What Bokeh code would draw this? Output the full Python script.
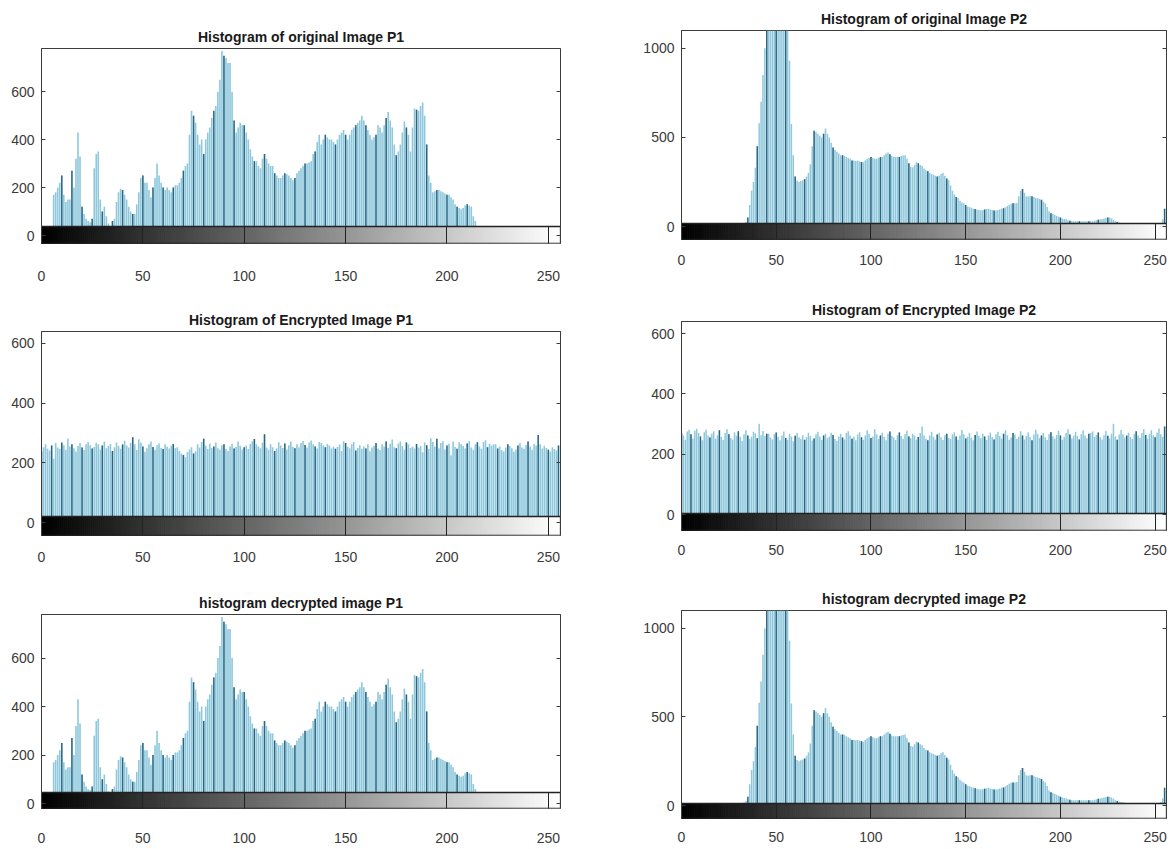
from bokeh.plotting import figure
from bokeh.layouts import row, column
from bokeh.models import Range1d, FixedTicker, LinearAxis
from bokeh.embed import file_html
from bokeh.resources import INLINE

# ---------------- data ----------------
levels = list(range(256))

orig_p1 = [
    0, 0, 0, 0, 0, 40, 170, 180, 200, 220, 250, 170, 140, 150, 150, 270,
    200, 320, 430, 330, 120, 90, 70, 60, 55, 70, 280, 340, 350, 150, 100, 120,
    80, 50, 40, 60, 70, 140, 180, 195, 190, 170, 150, 120, 100, 90, 90, 130,
    180, 240, 250, 220, 220, 190, 160, 200, 240, 300, 250, 220, 200, 190, 200, 190,
    180, 200, 210, 210, 220, 240, 270, 290, 300, 420, 520, 500, 470, 420, 380, 400,
    340, 400, 430, 450, 490, 520, 540, 600, 650, 770, 750, 740, 720, 720, 600, 480,
    430, 450, 470, 460, 460, 430, 400, 360, 330, 310, 310, 290, 280, 320, 340, 320,
    300, 290, 290, 260, 250, 240, 240, 250, 260, 255, 250, 240, 230, 240, 260, 270,
    280, 290, 300, 300, 305, 310, 340, 350, 390, 420, 380, 400, 420, 410, 400, 400,
    390, 380, 400, 420, 430, 440, 420, 400, 420, 440, 450, 460, 470, 480, 500, 480,
    460, 440, 420, 400, 410, 420, 460, 450, 430, 460, 490, 515, 480, 450, 380, 335,
    350, 380, 430, 475, 450, 420, 350, 450, 530, 525, 520, 540, 555, 500, 380, 250,
    220, 180, 185, 190, 190, 185, 180, 175, 170, 170, 160, 150, 130, 120, 115, 110,
    115, 125, 130, 125, 120, 80, 60, 40, 25, 15, 10, 0, 0, 0, 0, 0,
    0, 0, 0, 0, 0, 0, 0, 0, 0, 0, 0, 0, 0, 0, 0, 0,
    0, 0, 0, 0, 0, 0, 0, 0, 0, 0, 0, 0, 0, 0, 0, 0,
]

enc_p1 = [
    238, 252, 262, 247, 241, 258, 214, 266, 251, 246, 268, 259, 244, 281, 255, 262,
    249, 238, 256, 266, 251, 243, 262, 270, 259, 248, 253, 267, 262, 245, 258, 271,
    249, 256, 263, 240, 252, 268, 257, 247, 261, 274, 258, 251, 266, 286, 262, 243,
    279, 268, 255, 237, 249, 262, 271, 253, 244, 259, 265, 250, 246, 262, 254, 248,
    257, 263, 249, 252, 240, 231, 226, 219, 236, 245, 252, 231, 239, 262, 251, 270,
    281, 258, 246, 264, 250, 255, 268, 249, 244, 259, 262, 246, 240, 255, 263, 248,
    253, 271, 257, 245, 252, 258, 246, 263, 272, 280, 262, 255, 249, 268, 296, 251,
    244, 262, 252, 240, 248, 269, 258, 250, 265, 245, 259, 271, 254, 249, 262, 252,
    266, 273, 260, 251, 268, 275, 262, 255, 248, 270, 266, 259, 252, 263, 258, 248,
    254, 247, 253, 261, 240, 272, 266, 254, 249, 262, 270, 241, 250, 259, 246, 255,
    248, 262, 239, 251, 257, 266, 248, 243, 262, 255, 271, 250, 264, 278, 252, 249,
    265, 271, 256, 244, 268, 262, 250, 255, 248, 263, 251, 256, 235, 268, 259, 246,
    282, 270, 255, 281, 249, 266, 272, 245, 258, 264, 225, 271, 253, 247, 269, 262,
    256, 248, 265, 273, 251, 244, 262, 269, 255, 247, 270, 276, 252, 264, 258, 262,
    262, 248, 255, 243, 238, 251, 262, 256, 249, 237, 245, 258, 266, 251, 247, 260,
    271, 255, 244, 263, 258, 293, 262, 248, 257, 250, 244, 238, 252, 246, 241, 258,
]

dec_p1 = list(orig_p1)

orig_p2 = [
    0, 0, 0, 0, 0, 0, 0, 0, 0, 0, 0, 0, 0, 0, 0, 0,
    0, 0, 0, 0, 0, 0, 0, 0, 0, 3, 4, 5, 5, 6, 6, 8,
    10, 15, 25, 50, 120, 200, 250, 330, 450, 580, 700, 850, 1000, 1250, 1500, 1800,
    2000, 2100, 2050, 1900, 1800, 1700, 1600, 1450, 1250, 930, 575, 400, 280, 257, 250, 255,
    260, 265, 280, 300, 350, 450, 537, 530, 520, 510, 500, 520, 550, 520, 500, 470,
    444, 430, 420, 410, 400, 400, 397, 390, 385, 380, 370, 370, 368, 370, 365, 362,
    360, 370, 380, 385, 390, 385, 380, 380, 385, 390, 390, 400, 410, 416, 405, 395,
    390, 390, 390, 390, 395, 398, 400, 380, 355, 335, 332, 345, 360, 355, 345, 340,
    325, 315, 310, 300, 295, 290, 285, 280, 285, 295, 300, 285, 270, 260, 230, 200,
    180, 165, 160, 145, 135, 130, 120, 112, 110, 105, 100, 98, 95, 92, 90, 92,
    95, 98, 100, 96, 93, 90, 90, 92, 96, 100, 102, 108, 115, 122, 128, 130,
    130, 132, 170, 200, 211, 190, 170, 168, 170, 170, 165, 160, 158, 155, 150, 140,
    130, 110, 85, 75, 70, 65, 60, 55, 50, 45, 42, 40, 35, 32, 30, 30,
    30, 30, 30, 30, 30, 30, 30, 30, 30, 30, 32, 35, 38, 40, 42, 45,
    48, 50, 50, 45, 38, 30, 25, 22, 20, 18, 15, 12, 10, 10, 10, 10,
    10, 10, 10, 10, 10, 10, 10, 10, 10, 10, 10, 12, 15, 20, 40, 100,
]

enc_p2 = [
    270, 262, 248, 275, 281, 266, 252, 278, 284, 270, 259, 246, 273, 281, 262, 255,
    268, 276, 251, 263, 279, 258, 247, 270, 283, 266, 254, 249, 272, 261, 276, 258,
    244, 266, 279, 262, 250, 258, 274, 269, 253, 301, 263, 277, 260, 268, 268, 255,
    249, 266, 272, 258, 246, 262, 275, 254, 248, 267, 259, 243, 261, 270, 256, 250,
    263, 248, 257, 271, 260, 245, 252, 266, 274, 259, 247, 262, 268, 253, 258, 271,
    264, 250, 244, 259, 267, 255, 249, 270, 276, 262, 251, 258, 246, 265, 273, 256,
    248, 262, 279, 268, 254, 259, 283, 266, 250, 262, 271, 257, 246, 268, 275, 261,
    255, 247, 263, 272, 260, 251, 266, 278, 259, 253, 268, 262, 249, 257, 270, 292,
    263, 251, 246, 262, 274, 258, 249, 265, 271, 256, 247, 263, 268, 254, 250, 266,
    273, 259, 248, 262, 280, 266, 252, 258, 270, 255, 246, 264, 275, 261, 253, 268,
    259, 247, 262, 271, 257, 249, 266, 274, 260, 252, 268, 279, 263, 248, 255, 270,
    265, 251, 258, 276, 262, 249, 260, 272, 257, 246, 265, 281, 268, 254, 262, 270,
    256, 247, 266, 273, 259, 251, 264, 278, 262, 248, 257, 270, 283, 265, 252, 261,
    274, 260, 249, 266, 279, 262, 253, 268, 270, 275, 258, 264, 272, 256, 249, 263,
    277, 261, 252, 268, 301, 259, 248, 265, 280, 266, 255, 262, 271, 257, 250, 268,
    276, 262, 254, 270, 283, 264, 251, 268, 279, 263, 256, 272, 285, 266, 258, 292,
]

dec_p2 = list(orig_p2)

x_ticks = [0, 50, 100, 150, 200, 250]
y_ticks_p1 = [0, 200, 400, 600]
y_ticks_enc = [0, 200, 400, 600]
y_ticks_p2 = [0, 500, 1000]

for arr in (orig_p1, enc_p1, dec_p1, orig_p2, enc_p2, dec_p2):
    assert len(arr) == 256

# ---------------- styling ----------------
FONT = "Liberation Sans"
BAR_FILL = "#8fc8dc"
BAR_DARK = "#2d6580"
AX_COL = "#3c3c3c"


def make_panel(title, counts, ymax, yticks, col, fig_top, frame_top, y0, cb_top,
               frame_bottom, fig_bottom, x_standoff, top_line=True):
    if col == "L":
        page_left, frame_left, frame_right, page_right = 0, 41, 560, 600
    else:
        page_left, frame_left, frame_right, page_right = 600, 681, 1166, 1170
    ppu = (y0 - frame_top) / ymax
    ystart = -(frame_bottom - y0) / ppu
    cb_val = (y0 - cb_top) / ppu

    p = figure(
        width=page_right - page_left,
        height=fig_bottom - fig_top,
        min_border_left=frame_left - page_left,
        min_border_right=page_right - frame_right,
        min_border_top=frame_top - fig_top,
        min_border_bottom=fig_bottom - frame_bottom,
        x_range=Range1d(0, 256),
        y_range=Range1d(ystart, ymax),
        output_backend="svg",
        toolbar_location=None,
        background_fill_color="white",
        border_fill_color="white",
    )
    p.xgrid.visible = False
    p.ygrid.visible = False
    if top_line:
        p.outline_line_color = AX_COL
        p.outline_line_width = 1
    else:
        p.outline_line_color = None

    # histogram bars
    p.vbar(x=levels, top=counts, bottom=0, width=0.8,
           fill_color=BAR_FILL, line_color=None)
    dark_x = levels[::5]
    dark_y = counts[::5]
    p.segment(x0=dark_x, y0=[0] * len(dark_x), x1=dark_x, y1=dark_y,
              line_color=BAR_DARK, line_width=1.4)

    # grayscale colour bar below the histogram
    grays = ["#%02x%02x%02x" % (v, v, v) for v in levels]
    p.quad(left=levels, right=[v + 1 for v in levels], bottom=ystart, top=cb_val,
           fill_color=grays, line_color=grays, line_width=1)
    p.quad(left=[0], right=[256], bottom=[ystart], top=[cb_val],
           fill_color=None, line_color="#222222", line_width=1.3)

    # title
    p.title.text = title
    p.title.align = "center"
    p.title.text_font = FONT
    p.title.text_font_size = "14px"
    p.title.text_font_style = "bold"
    p.title.text_color = "#1a1a1a"
    p.title.standoff = 7

    # left axis
    ya = p.yaxis[0]
    ya.ticker = FixedTicker(ticks=yticks)
    ya.major_label_text_font = FONT
    ya.major_label_text_font_size = "14px"
    ya.major_label_text_color = "#3a3a3a"
    ya.major_tick_in = 4
    ya.major_tick_out = 0
    ya.major_tick_line_color = AX_COL
    ya.minor_tick_line_color = None
    ya.axis_line_color = AX_COL
    ya.major_label_standoff = 7

    # bottom axis (ticks run across the colour bar)
    xa = p.xaxis[0]
    xa.ticker = FixedTicker(ticks=x_ticks)
    xa.major_label_text_font = FONT
    xa.major_label_text_font_size = "14px"
    xa.major_label_text_color = "#3a3a3a"
    xa.major_tick_in = frame_bottom - cb_top
    xa.major_tick_out = 0
    xa.major_tick_line_color = "#222222"
    xa.minor_tick_line_color = None
    xa.axis_line_color = None
    xa.major_label_standoff = x_standoff

    # right axis: ticks only
    ra = LinearAxis(ticker=FixedTicker(ticks=yticks), major_label_text_font_size="0px",
                    major_label_text_alpha=0, major_tick_in=4, major_tick_out=0,
                    major_tick_line_color=AX_COL, minor_tick_line_color=None,
                    axis_line_color=AX_COL, major_label_standoff=0)
    p.add_layout(ra, "right")
    return p


L1 = make_panel("Histogram of original Image P1", orig_p1, 780, y_ticks_p1, "L",
                0, 48, 235, 226, 243, 290, 27)
L2 = make_panel("Histogram of Encrypted Image P1", enc_p1, 640, y_ticks_enc, "L",
                290, 331, 522, 516, 535, 572, 16)
L3 = make_panel("histogram decrypted image P1", dec_p1, 780, y_ticks_p1, "L",
                572, 614, 803, 792, 808, 849, 24)
R1 = make_panel("Histogram of original Image P2", orig_p2, 1100, y_ticks_p2, "R",
                0, 30, 226, 223, 239, 285, 15)
R2 = make_panel("Histogram of Encrypted Image P2", enc_p2, 640, y_ticks_enc, "R",
                285, 321, 514, 513, 530, 575, 14)
R3 = make_panel("histogram decrypted image P2", dec_p2, 1100, y_ticks_p2, "R",
                575, 610, 805, 803, 818, 849, 13)

layout = row(column(L1, L2, L3), column(R1, R2, R3))

with open("out.html", "w") as f:
    f.write(file_html(layout, INLINE))
